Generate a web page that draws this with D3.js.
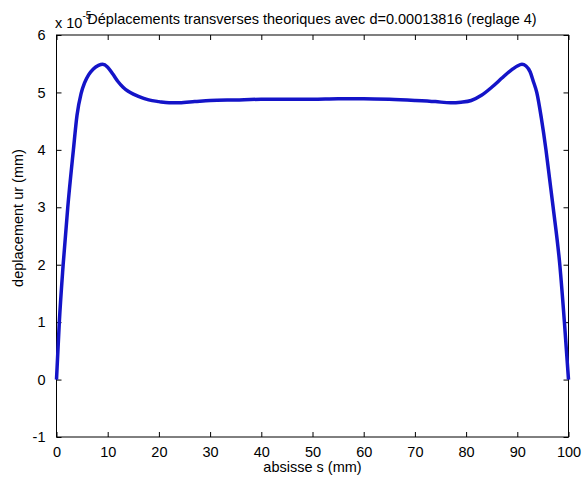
<!DOCTYPE html>
<html>
<head>
<meta charset="utf-8">
<script src="https://cdn.jsdelivr.net/npm/d3@7"></script>
<style>
  body { margin: 0; background: #fff; }
  text { font-family: "Liberation Sans", Arial, sans-serif; fill: #000; }
</style>
</head>
<body>
<div id="chart"></div>
<script>
// abscissa s (mm) and transverse displacement ur (x 1e-5 mm)
var absisse = [0, 0.55, 1.3, 2.2, 3.3, 4.0, 4.8, 5.5, 6.3, 7.2, 8.2, 9.0, 10, 11, 12, 13, 14, 15, 16, 18, 20,
               22, 24, 27, 30, 35, 40, 45, 50, 55, 60, 65, 70, 74, 77, 79, 81, 83, 85, 87, 88, 89, 90,
               90.9, 91.7, 92.5, 93.1, 93.8, 94.7, 95.6, 96.3, 97.0, 98.3, 99.2, 100];
var deplacement = [0, 1, 2, 3, 4, 4.6, 4.98, 5.17, 5.31, 5.41, 5.47, 5.49, 5.44, 5.32, 5.19, 5.09, 5.02, 4.97, 4.93, 4.87, 4.84,
                   4.82, 4.82, 4.84, 4.86, 4.87, 4.88, 4.88, 4.88, 4.89, 4.89, 4.88, 4.86, 4.84, 4.82, 4.83, 4.86, 4.95, 5.09, 5.25, 5.33, 5.40, 5.46,
                   5.49, 5.46, 5.36, 5.2, 5.0, 4.55, 4.0, 3.5, 3.0, 2.0, 1.0, 0];
var xTicks = [0, 10, 20, 30, 40, 50, 60, 70, 80, 90, 100];
var yTicks = [-1, 0, 1, 2, 3, 4, 5, 6];

var titleText = "Déplacements transverses theoriques avec d=0.00013816 (reglage 4)";
var xLabel = "absisse s (mm)";
var yLabel = "deplacement ur (mm)";

var W = 582, H = 481;
var margin = { top: 35, right: 13.5, bottom: 44, left: 56.5 };
var width = W - margin.left - margin.right,
    height = H - margin.top - margin.bottom;
var fs = "14.5px";

var svg = d3.select("#chart").append("svg")
    .attr("width", W)
    .attr("height", H);

var g = svg.append("g")
    .attr("transform", "translate(" + margin.left + "," + margin.top + ")");

var x = d3.scaleLinear().domain([0, 100]).range([0, width]);
var y = d3.scaleLinear().domain([-1, 6]).range([height, 0]);

var plain = function(d) { return String(d); };

// axes, ticks pointing inward like matlab
var axisStyle = function(sel) {
    sel.select(".domain").remove();
    sel.selectAll("line").attr("stroke", "#000");
    sel.selectAll("text").style("font-size", fs);
};

g.append("g")
    .attr("transform", "translate(0," + height + ")")
    .call(d3.axisBottom(x).tickValues(xTicks).tickSize(-5).tickPadding(10).tickFormat(plain))
    .call(axisStyle);

g.append("g")
    .call(d3.axisTop(x).tickValues(xTicks).tickSize(-5).tickFormat(""))
    .call(axisStyle);

g.append("g")
    .call(d3.axisLeft(y).tickValues(yTicks).tickSize(-5).tickPadding(11).tickFormat(plain))
    .call(axisStyle);

g.append("g")
    .attr("transform", "translate(" + width + ",0)")
    .call(d3.axisRight(y).tickValues(yTicks).tickSize(-5).tickFormat(""))
    .call(axisStyle);

// box
g.append("rect")
    .attr("width", width)
    .attr("height", height)
    .attr("fill", "none")
    .attr("stroke", "#000")
    .attr("stroke-width", 1);

// curve
var line = d3.line()
    .x(function(d, i) { return x(absisse[i]); })
    .y(function(d) { return y(d); })
    .curve(d3.curveMonotoneX);

g.append("path")
    .datum(deplacement)
    .attr("d", line)
    .attr("fill", "none")
    .attr("stroke", "#1414c8")
    .attr("stroke-width", 3.5)
    .attr("stroke-linejoin", "round");

// exponent label
var expo = svg.append("text")
    .attr("x", 55)
    .attr("y", 28)
    .style("font-size", fs);
expo.append("tspan").text("x 10");
expo.append("tspan").attr("dy", -9).style("font-size", "10px").text("-5");

// title
svg.append("text")
    .attr("x", 312)
    .attr("y", 24)
    .attr("text-anchor", "middle")
    .style("font-size", fs)
    .text(titleText);

svg.append("text")
    .attr("x", margin.left + width / 2)
    .attr("y", 472)
    .attr("text-anchor", "middle")
    .style("font-size", fs)
    .text(xLabel);

svg.append("text")
    .attr("transform", "translate(23,218) rotate(-90)")
    .attr("text-anchor", "middle")
    .style("font-size", fs)
    .text(yLabel);
</script>
</body>
</html>
